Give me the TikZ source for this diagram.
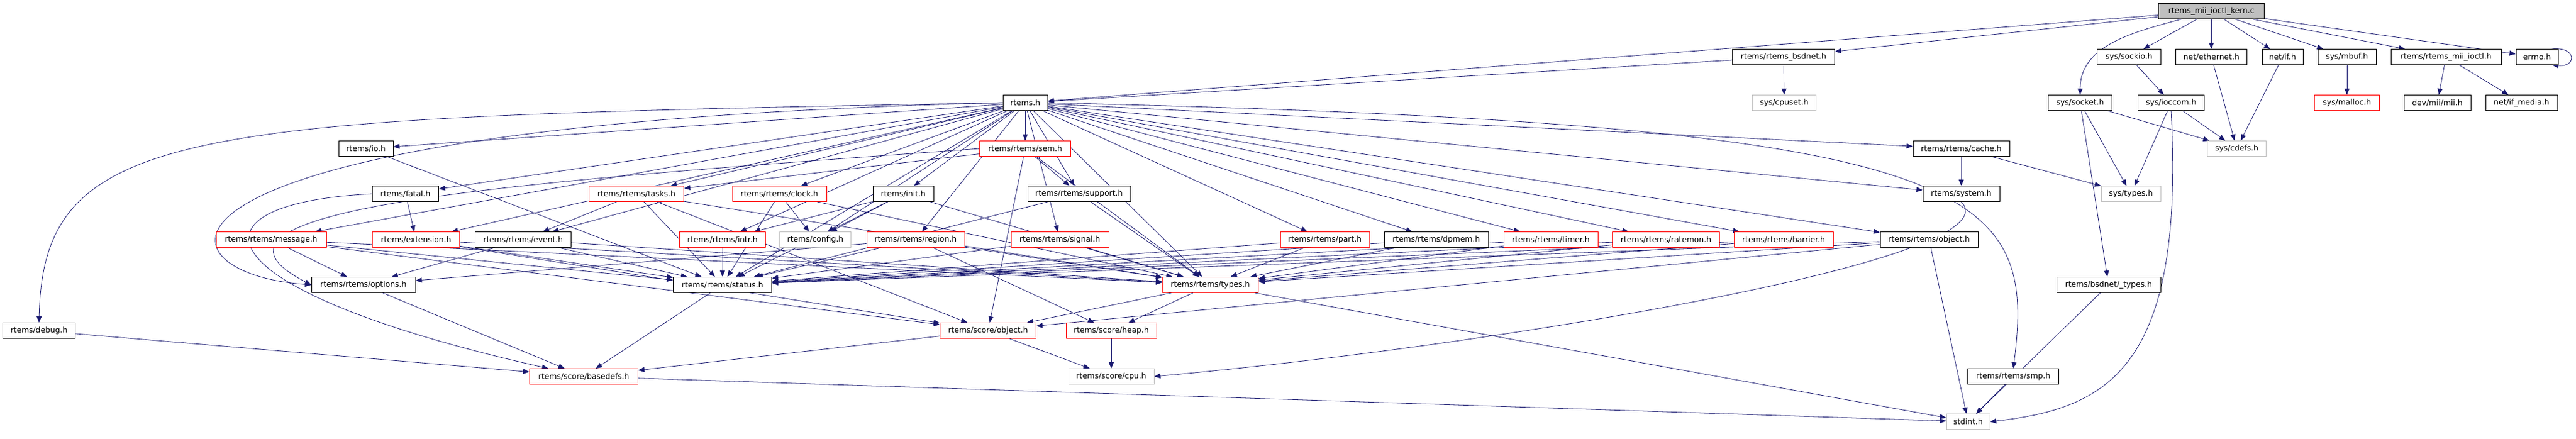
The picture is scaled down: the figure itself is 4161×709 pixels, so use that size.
\documentclass[tikz,border=0pt]{standalone}
\usepackage{fontspec}
\setmainfont{DejaVu Sans}
\usetikzlibrary{arrows.meta, backgrounds}
\definecolor{edgeblue}{HTML}{191970}
\definecolor{boxgray}{HTML}{BFBFBF}

\begin{document}
\begin{tikzpicture}[x=1pt, y=1pt,
  every node/.style={rectangle, draw=black, fill=white, line width=0.9pt, minimum height=25pt, inner sep=1pt, font=\fontsize{12.5}{14}\selectfont},
  redbox/.style={draw=red},
  graybox/.style={draw=boxgray},
  dep/.style={draw=edgeblue, line width=0.8pt, -{Triangle[length=10pt, width=8pt]}}]
  \useasboundingbox (0,0) rectangle (4161,-709);

  % Source file and its direct includes
  \node[fill=boxgray, minimum width=171pt] (kern) at (3572,-18) {rtems\_mii\_ioctl\_kern.c};
  \node[minimum width=165pt] (bsdnet) at (2881,-92) {rtems/rtems\_bsdnet.h};
  \node[minimum width=103pt] (sockio) at (3439,-92) {sys/sockio.h};
  \node[minimum width=115pt] (ether) at (3572,-92) {net/ethernet.h};
  \node[minimum width=66pt] (netif) at (3687,-92) {net/if.h};
  \node[minimum width=94pt] (mbuf) at (3791,-92) {sys/mbuf.h};
  \node[minimum width=178pt] (miiioctl) at (3951,-92) {rtems/rtems\_mii\_ioctl.h};
  \node[minimum width=68pt] (errno) at (4098,-92) {errno.h};

  % Third row
  \node[minimum width=72pt] (rtems) at (1656,-166) {rtems.h};
  \node[graybox, minimum width=103pt] (cpuset) at (2882,-166) {sys/cpuset.h};
  \node[minimum width=103pt] (socket) at (3360,-166) {sys/socket.h};
  \node[minimum width=107pt] (ioccom) at (3507,-166) {sys/ioccom.h};
  \node[redbox, minimum width=105pt] (malloc) at (3791,-166) {sys/malloc.h};
  \node[minimum width=108pt] (mii) at (3937,-166) {dev/mii/mii.h};
  \node[minimum width=116pt] (ifmedia) at (4073,-166) {net/if\_media.h};

  % Fourth row
  \node[minimum width=88pt] (io) at (591,-240) {rtems/io.h};
  \node[redbox, minimum width=147pt] (sem) at (1656,-240) {rtems/rtems/sem.h};
  \node[minimum width=156pt] (cache) at (3168,-240) {rtems/rtems/cache.h};
  \node[graybox, minimum width=95pt] (cdefs) at (3613,-240) {sys/cdefs.h};

  % Fifth row
  \node[minimum width=107pt] (fatal) at (655,-313) {rtems/fatal.h};
  \node[redbox, minimum width=153pt] (tasks) at (1028,-313) {rtems/rtems/tasks.h};
  \node[redbox, minimum width=152pt] (clock) at (1259,-313) {rtems/rtems/clock.h};
  \node[minimum width=98pt] (init) at (1459,-313) {rtems/init.h};
  \node[minimum width=166pt] (support) at (1743,-313) {rtems/rtems/support.h};
  \node[minimum width=124pt] (system) at (3168,-313) {rtems/system.h};
  \node[graybox, minimum width=96pt] (systypes) at (3442,-313) {sys/types.h};

  % Sixth row
  \node[redbox, minimum width=178pt] (message) at (438,-387) {rtems/rtems/message.h};
  \node[redbox, minimum width=141pt] (extension) at (672,-387) {rtems/extension.h};
  \node[minimum width=155pt] (event) at (845,-387) {rtems/rtems/event.h};
  \node[redbox, minimum width=139pt] (intr) at (1167,-387) {rtems/rtems/intr.h};
  \node[graybox, minimum width=115pt] (config) at (1317,-387) {rtems/config.h};
  \node[redbox, minimum width=158pt] (region) at (1479,-387) {rtems/rtems/region.h};
  \node[redbox, minimum width=158pt] (signal) at (1712,-387) {rtems/rtems/signal.h};
  \node[redbox, minimum width=144pt] (part) at (2140,-387) {rtems/rtems/part.h};
  \node[minimum width=168pt] (dpmem) at (2320,-387) {rtems/rtems/dpmem.h};
  \node[redbox, minimum width=152pt] (timer) at (2505,-387) {rtems/rtems/timer.h};
  \node[redbox, minimum width=173pt] (ratemon) at (2691,-387) {rtems/rtems/ratemon.h};
  \node[redbox, minimum width=160pt] (barrier) at (2881,-387) {rtems/rtems/barrier.h};
  \node[minimum width=158pt] (robject) at (3116,-387) {rtems/rtems/object.h};

  % Seventh row
  \node[minimum width=168pt] (options) at (587,-460) {rtems/rtems/options.h};
  \node[minimum width=159pt] (status) at (1167,-460) {rtems/rtems/status.h};
  \node[redbox, minimum width=155pt] (types) at (1955,-460) {rtems/rtems/types.h};
  \node[minimum width=168pt] (bsdtypes) at (3406,-460) {rtems/bsdnet/\_types.h};

  % Lower rows
  \node[minimum width=117pt] (debug) at (63,-534) {rtems/debug.h};
  \node[redbox, minimum width=155pt] (sobject) at (1596,-534) {rtems/score/object.h};
  \node[redbox, minimum width=146pt] (heap) at (1795,-534) {rtems/score/heap.h};
  \node[redbox, minimum width=175pt] (basedefs) at (943,-608) {rtems/score/basedefs.h};
  \node[graybox, minimum width=138pt] (cpu) at (1795,-608) {rtems/score/cpu.h};
  \node[minimum width=147pt] (smp) at (3252,-608) {rtems/rtems/smp.h};
  \node[graybox, minimum width=70pt] (stdint) at (3179,-681) {stdint.h};

  \begin{pgfonlayer}{background}
  % Includes of the source file
  \draw[dep] (kern) -- (rtems);
  \draw[dep] (kern) -- (bsdnet);
  \draw[dep] (kern) to[out=195, in=90] (socket);
  \draw[dep] (kern) -- (sockio);
  \draw[dep] (kern) -- (ether);
  \draw[dep] (kern) -- (netif);
  \draw[dep] (kern) -- (mbuf);
  \draw[dep] (kern) -- (miiioctl);
  \draw[dep] (kern) -- (errno);
  \draw[dep] ([xshift=-10pt]errno.north east) .. controls +(40,4) and +(40,-4) .. ([xshift=-10pt]errno.south east);

  % Network headers
  \draw[dep] (bsdnet) -- (rtems);
  \draw[dep] (bsdnet) -- (cpuset);
  \draw[dep] (sockio) -- (ioccom);
  \draw[dep] (ether) -- (cdefs);
  \draw[dep] (netif) -- (cdefs);
  \draw[dep] (mbuf) -- (malloc);
  \draw[dep] (miiioctl) -- (mii);
  \draw[dep] (miiioctl) -- (ifmedia);
  \draw[dep] (socket) -- (systypes);
  \draw[dep] (socket) -- (cdefs);
  \draw[dep] (socket) -- (bsdtypes);
  \draw[dep] (ioccom) -- (systypes);
  \draw[dep] (ioccom) -- (cdefs);
  \draw[dep] (ioccom.south) .. controls (3530,-600) and (3400,-660) .. (stdint.east);
  \draw[dep] (bsdtypes) -- (stdint);

  % Includes of rtems.h
  \draw[dep] (rtems.west) .. controls (300,-190) and (70,-200) .. (debug.north);
  \draw[dep] (rtems.west) .. controls (180,-200) and (230,-440) .. (options.west);
  \draw[dep] (rtems) -- (io);
  \draw[dep] (rtems) -- (fatal);
  \draw[dep] (rtems) -- (message);
  \draw[dep] (rtems) -- (extension);
  \draw[dep] (rtems) -- (event);
  \draw[dep] (rtems) -- (tasks);
  \draw[dep] (rtems) -- (clock);
  \draw[dep] (rtems) -- (intr);
  \draw[dep] (rtems) -- (config);
  \draw[dep] (rtems) -- (init);
  \draw[dep] (rtems) -- (region);
  \draw[dep] (rtems) -- (sem);
  \draw[dep] (rtems) -- (support);
  \draw[dep] (rtems) -- (signal);
  \draw[dep] (rtems) -- (status);
  \draw[dep] (rtems) -- (types);
  \draw[dep] (rtems) -- (part);
  \draw[dep] (rtems) -- (dpmem);
  \draw[dep] (rtems) -- (timer);
  \draw[dep] (rtems) -- (ratemon);
  \draw[dep] (rtems) -- (barrier);
  \draw[dep] (rtems) -- (robject);
  \draw[dep] (rtems) -- (cache);
  \draw[dep] (rtems) -- (system);
  \draw[dep] (rtems.east) .. controls (3200,-200) and (3290,-300) .. (smp.north);

  % Classic API headers
  \draw[dep] (io) -- (status);
  \draw[dep] (fatal) -- (extension);
  \draw[dep] (fatal.west) .. controls (280,-330) and (330,-470) .. (basedefs);
  \draw[dep] (message) -- (options);
  \draw[dep] (message) -- (status);
  \draw[dep] (message) -- (types);
  \draw[dep] (message) -- (sobject);
  \draw[dep] (extension) -- (status);
  \draw[dep] (extension) -- (types);
  \draw[dep] (extension) -- (sobject);
  \draw[dep] (event) -- (options);
  \draw[dep] (event) -- (status);
  \draw[dep] (event) -- (types);
  \draw[dep] (tasks) -- (event);
  \draw[dep] (tasks) -- (status);
  \draw[dep] (tasks) -- (types);
  \draw[dep] (tasks) -- (sobject);
  \draw[dep] (clock) -- (config);
  \draw[dep] (clock) -- (status);
  \draw[dep] (clock) -- (types);
  \draw[dep] (intr) -- (status);
  \draw[dep] (init) -- (config);
  \draw[dep] (init) -- (intr);
  \draw[dep] (init) -- (status);
  \draw[dep] (init) -- (types);
  \draw[dep] (region) -- (options);
  \draw[dep] (region) -- (status);
  \draw[dep] (region) -- (types);
  \draw[dep] (region) -- (heap);
  \draw[dep] (sem) -- (tasks);
  \draw[dep] (sem.west) .. controls (900,-290) and (250,-330) .. (options.west);
  \draw[dep] (sem) -- (support);
  \draw[dep] (sem) -- (types);
  \draw[dep] (sem) -- (sobject);
  \draw[dep] (support) -- (status);
  \draw[dep] (support) -- (types);
  \draw[dep] (signal) -- (status);
  \draw[dep] (signal) -- (types);
  \draw[dep] (part) -- (status);
  \draw[dep] (part) -- (types);
  \draw[dep] (dpmem) -- (status);
  \draw[dep] (dpmem) -- (types);
  \draw[dep] (timer) -- (status);
  \draw[dep] (timer) -- (types);
  \draw[dep] (ratemon) -- (status);
  \draw[dep] (ratemon) -- (types);
  \draw[dep] (barrier) -- (status);
  \draw[dep] (barrier) -- (types);
  \draw[dep] (robject) -- (status);
  \draw[dep] (robject) -- (types);
  \draw[dep] (robject) -- (sobject);
  \draw[dep] (robject) -- (stdint);
  \draw[dep] (cache) -- (system);
  \draw[dep] (cache) -- (systypes);
  \draw[dep] (system.south) .. controls (3260,-420) and (2400,-560) .. (cpu.east);

  % Score headers
  \draw[dep] (types) -- (sobject);
  \draw[dep] (types) -- (heap);
  \draw[dep] (types) -- (stdint);
  \draw[dep] (options) -- (basedefs);
  \draw[dep] (status) -- (basedefs);
  \draw[dep] (debug) -- (basedefs);
  \draw[dep] (sobject) -- (basedefs);
  \draw[dep] (sobject) -- (cpu);
  \draw[dep] (heap) -- (cpu);
  \draw[dep] (basedefs) -- (stdint);
  \draw[dep] (smp) -- (stdint);
  \end{pgfonlayer}
\end{tikzpicture}
\end{document}
